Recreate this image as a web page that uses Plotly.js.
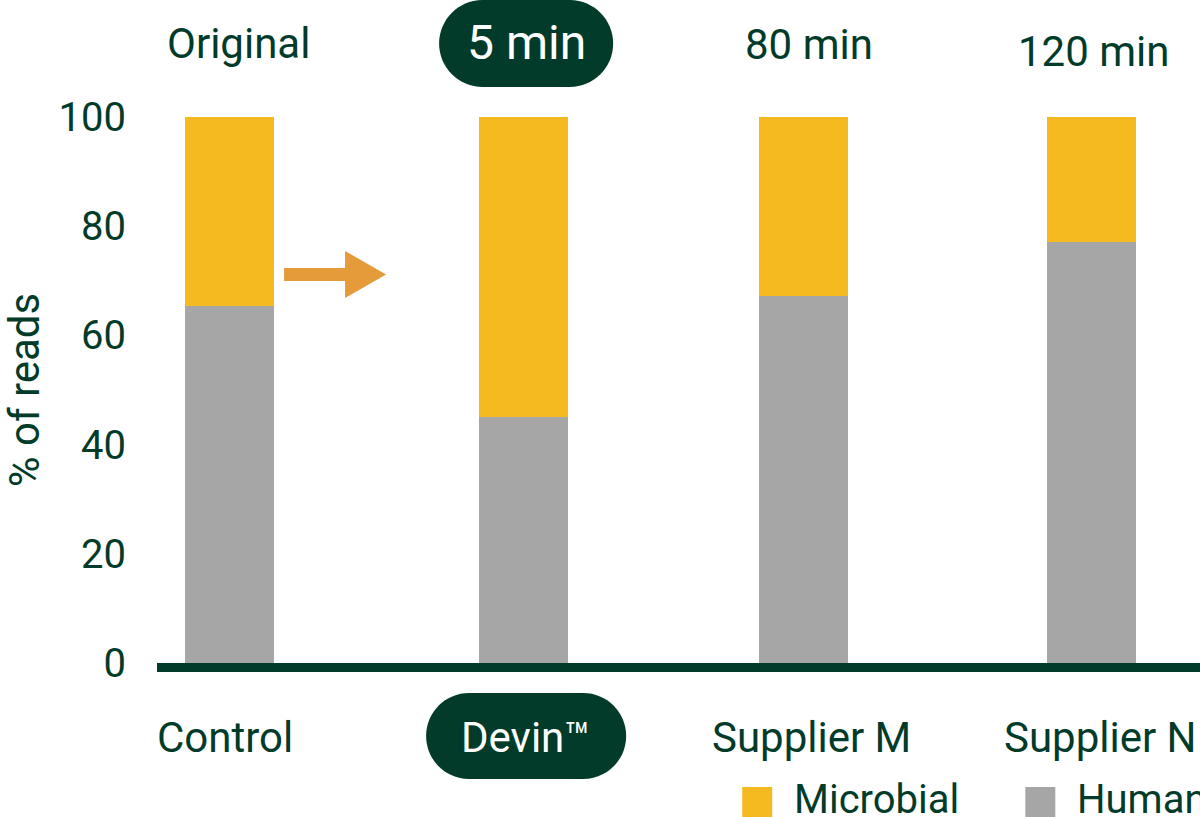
<!DOCTYPE html>
<html><head><meta charset="utf-8">
<script src="https://cdn.plot.ly/plotly-3.0.1.min.js"></script>
<style>html,body{margin:0;padding:0;overflow:hidden;background:#fff}#chart{width:1270px;height:840px}</style>
</head><body><div id="chart"></div>
<script>
// ---- data ----
const categories = ['Control', 'Devin™', 'Supplier M', 'Supplier N'];
const treatmentLabels = ['Original', '5 min', '80 min', '120 min'];
const humanPct = [65.4, 45.1, 67.3, 77.1];
const microbialPct = [34.6, 54.9, 32.7, 22.9];
const yTickVals = [0, 20, 40, 60, 80, 100];
const seriesNames = ['Human', 'Microbial'];

// ---- styling / geometry ----
const GREEN = '#023B2A', YELLOW = '#F4BA20', GREY = '#A6A6A6', ORANGE = '#E59B3A';
const FONT = 'Roboto, "Open Sans", sans-serif';
const W = 1270, H = 840, ML = 157, MT = 117, PW = 1106.6, PH = 546;
const MR = W - ML - PW, MB = H - MT - PH;
const fx = px => (px - ML) / PW;
const fy = py => (MT + PH - py) / PH;
const P = (x, y) => fx(x).toFixed(5) + ',' + fy(y).toFixed(5);

function pill(x0, y0, x1, y1) {
  const r = (y1 - y0) / 2, k = 0.5523 * r;
  return 'M' + P(x0 + r, y0) + ' L' + P(x1 - r, y0) +
    ' C' + P(x1 - r + k, y0) + ' ' + P(x1, y0 + r - k) + ' ' + P(x1, y0 + r) +
    ' C' + P(x1, y0 + r + k) + ' ' + P(x1 - r + k, y1) + ' ' + P(x1 - r, y1) +
    ' L' + P(x0 + r, y1) +
    ' C' + P(x0 + r - k, y1) + ' ' + P(x0, y0 + r + k) + ' ' + P(x0, y0 + r) +
    ' C' + P(x0, y0 + r - k) + ' ' + P(x0 + r - k, y0) + ' ' + P(x0 + r, y0) + ' Z';
}

const barOffset = [-0.1549, -0.1323, -0.1573, -0.1549];
const barWidth = 0.3098;

const traces = [
  {type: 'bar', name: seriesNames[0], x: categories, y: humanPct,
   marker: {color: GREY, line: {width: 0}}, width: barWidth, offset: barOffset, hoverinfo: 'skip'},
  {type: 'bar', name: seriesNames[1], x: categories, y: microbialPct,
   marker: {color: YELLOW, line: {width: 0}}, width: barWidth, offset: barOffset, hoverinfo: 'skip'}
];

function ann(text, xpx, ypx, anchor, size, color) {
  return {text: text, xref: 'paper', yref: 'paper', x: fx(xpx), y: fy(ypx),
    xanchor: anchor, yanchor: 'middle', showarrow: false,
    font: {family: FONT, size: size, color: color || GREEN}};
}

const annotations = [
  ann(treatmentLabels[0], 238.5, 43, 'center', 42),
  ann(treatmentLabels[1], 526, 42, 'center', 48, '#FFFFFF'),
  ann(treatmentLabels[2], 808.5, 44.5, 'center', 42),
  ann(treatmentLabels[3], 1093.5, 51.5, 'center', 42),
  ann(categories[0], 155, 737.5, 'left', 42),
  ann(categories[1], 526, 737, 'center', 42, '#FFFFFF'),
  ann(categories[2], 710, 737.5, 'left', 42),
  ann(categories[3], 1002, 737.5, 'left', 42),
  ann(seriesNames[1], 792, 799, 'left', 40),
  ann(seriesNames[0], 1075, 799, 'left', 40)
];

const shapes = [
  {type: 'path', xref: 'paper', yref: 'paper', path: pill(439, 0, 613, 87), fillcolor: GREEN, line: {width: 0}, layer: 'below'},
  {type: 'path', xref: 'paper', yref: 'paper', path: pill(426, 693, 626, 779), fillcolor: GREEN, line: {width: 0}, layer: 'below'},
  {type: 'path', xref: 'paper', yref: 'paper',
   path: 'M' + P(284, 268) + ' L' + P(345, 268) + ' L' + P(345, 251) + ' L' + P(386, 274.5) +
         ' L' + P(345, 298) + ' L' + P(345, 281) + ' L' + P(284, 281) + ' Z',
   fillcolor: ORANGE, line: {width: 0}},
  {type: 'rect', xref: 'paper', yref: 'paper', x0: fx(742), x1: fx(772), y0: fy(787), y1: fy(817), fillcolor: YELLOW, line: {width: 0}},
  {type: 'rect', xref: 'paper', yref: 'paper', x0: fx(1025), x1: fx(1055), y0: fy(787), y1: fy(817), fillcolor: GREY, line: {width: 0}}
];

const layout = {
  width: W, height: H,
  margin: {l: ML, r: MR, t: MT, b: MB, pad: 0},
  paper_bgcolor: '#FFFFFF', plot_bgcolor: '#FFFFFF',
  barmode: 'stack', showlegend: false, hovermode: false,
  font: {family: FONT, color: GREEN},
  xaxis: {type: 'category', range: [-0.2524, 3.6], showgrid: false, zeroline: false,
    showline: true, linecolor: GREEN, linewidth: 9, showticklabels: false, ticks: '', fixedrange: true},
  yaxis: {range: [0, 100], tickvals: yTickVals, showgrid: false, zeroline: false, showline: false,
    ticks: '', ticklabelstandoff: 30, tickfont: {family: FONT, size: 40, color: GREEN},
    title: {text: '% of reads', font: {family: FONT, size: 42, color: GREEN}, standoff: 20},
    fixedrange: true},
  annotations: annotations,
  shapes: shapes
};

Plotly.newPlot('chart', traces, layout, {displayModeBar: false, staticPlot: true});
</script>
</body></html>
